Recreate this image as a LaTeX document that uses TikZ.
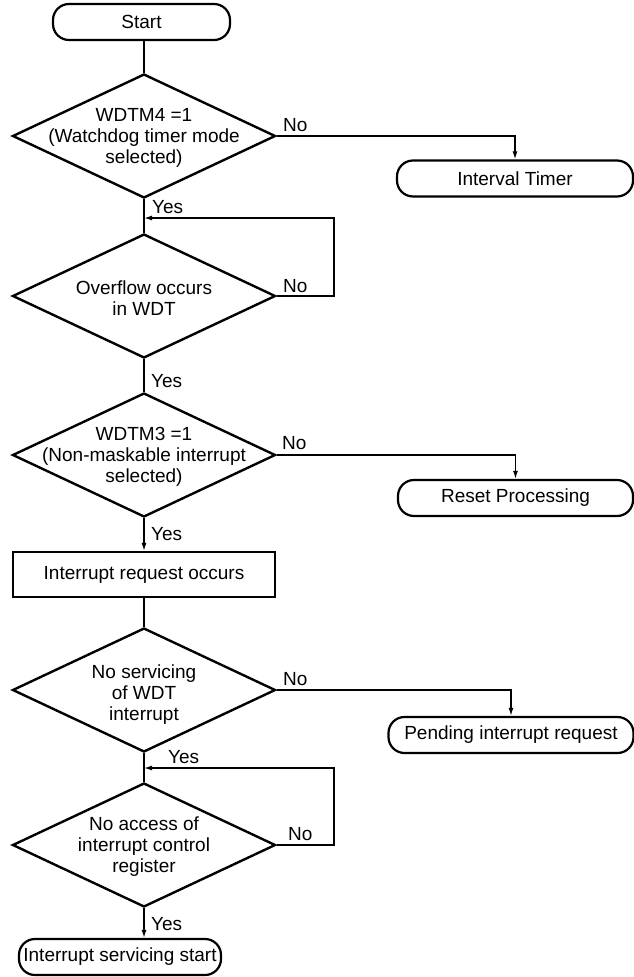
\documentclass[tikz,border=0pt]{standalone}
\usepackage{fontspec}
\setmainfont{Liberation Sans}
\usetikzlibrary{shapes.geometric,arrows.meta}
\begin{document}
\begin{tikzpicture}[x=1pt,y=-1pt,
  every node/.style={font=\fontsize{19}{21}\selectfont},
  termbox/.style={draw, line width=2.2pt, rounded corners=16pt, inner sep=0pt, minimum height=36pt},
  procbox/.style={draw, line width=2.2pt, inner sep=0pt, minimum width=262pt, minimum height=45pt},
  decbox/.style={draw, diamond, line width=2.4pt, inner sep=0pt, minimum width=263pt, minimum height=124pt},
  dtext/.style={align=center, inner sep=0pt},
  conn/.style={line width=1.4pt},
  arr/.style={conn, -{Latex[length=8pt,width=5pt]}},
  lbl/.style={inner sep=0pt, anchor=base west}
]
\useasboundingbox (0,0) rectangle (634,977);

% process nodes
\node[termbox, minimum width=177pt] (start) at (141.5,22) {Start};
\node[decbox] (d1) at (144,136) {};
\node[dtext] (d1t) at (144,138) {WDTM4 =1\\(Watchdog timer mode\\selected)};
\node[termbox, minimum width=236pt] (it) at (515,178.5) {Interval Timer};
\coordinate (j1) at (144,218);
\node[decbox] (d2) at (144,296) {};
\node[dtext] (d2t) at (144,298) {Overflow occurs\\in WDT};
\coordinate (r2) at (334,296);
\node[decbox] (d3) at (144,455) {};
\node[dtext] (d3t) at (144,457) {WDTM3 =1\\(Non-maskable interrupt\\selected)};
\node[termbox, minimum width=235pt] (rp) at (515.5,498) {Reset Processing};
\node[procbox] (irq) at (144,574.5) {Interrupt request occurs};
\node[decbox] (d4) at (144,690) {};
\node[dtext] (d4t) at (144,695) {No servicing\\of WDT\\interrupt};
\node[termbox, minimum width=245pt] (pend) at (511,735) {Pending interrupt request};
\coordinate (j2) at (144,768);
\node[decbox] (d5) at (144,845) {};
\node[dtext] (d5t) at (144,847) {No access of\\interrupt control\\register};
\coordinate (r5) at (334,845);
\node[termbox, minimum width=202pt] (iss) at (120,957) {Interrupt servicing start};

% connectors
\draw[conn] (d1.north |- start.south) -- (d1.north);
\draw[arr] (d1.east) -| (it.north);
\draw[conn] (d1.south) -- (d2.north);
\draw[arr] (d2.east) -- (r2) |- (j1);
\draw[conn] (d2.south) -- (d3.north);
\draw[arr] (d3.east) -| (rp.north);
\draw[arr] (d3.south) -- (irq.north);
\draw[conn] (irq.south) -- (d4.north);
\draw[arr] (d4.east) -| (pend.north);
\draw[conn] (d4.south) -- (d5.north);
\draw[arr] (d5.east) -- (r5) |- (j2);
\draw[arr] (d5.south) -- (d5.south |- iss.north);

% branch labels
\node[lbl] (n1) at (283,131) {No};
\node[lbl] (y1) at (152,213) {Yes};
\node[lbl] (n2) at (283,292) {No};
\node[lbl] (y2) at (151,387) {Yes};
\node[lbl] (n3) at (282,449) {No};
\node[lbl] (y3) at (151,540) {Yes};
\node[lbl] (n4) at (283,685) {No};
\node[lbl] (y4) at (168,763) {Yes};
\node[lbl] (n5) at (288,840) {No};
\node[lbl] (y5) at (151,930) {Yes};
\end{tikzpicture}
\end{document}
